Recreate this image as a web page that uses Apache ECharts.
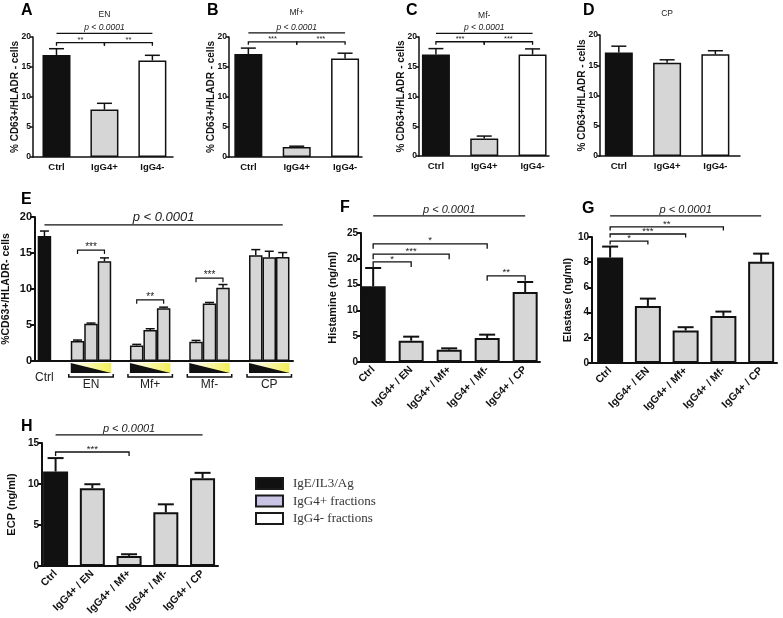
<!DOCTYPE html>
<html>
<head>
<meta charset="utf-8">
<script src="https://cdn.jsdelivr.net/npm/echarts@6.0.0/dist/echarts.min.js"></script>
<style>
html,body{margin:0;padding:0;background:#ffffff;}
#chart{width:783px;height:618px;}
</style>
</head>
<body>
<div id="chart"></div>
<script>
// ================= DATA =================
// Panels A-D : % CD63+/HLADR- cells
const fractionCats = ['Ctrl', 'IgG4+', 'IgG4-'];
const panelTitles = ['EN', 'Mf+', 'Mf-', 'CP'];
const aMean = [17.0, 7.9, 16.1];
const aSem  = [1.05, 1.05, 0.85];
const bMean = [17.15, 1.65, 16.4];
const bSem  = [1.0, 0.15, 0.9];
const cMean = [17.05, 2.95, 17.05];
const cSem  = [1.0, 0.4, 0.95];
const dMean = [17.1, 15.4, 16.8];
const dSem  = [1.05, 0.5, 0.6];

// Panel E : dose response (3 doses per fraction)
const eGroupNames = ['EN', 'Mf+', 'Mf-', 'CP'];
const eCtrlMean = [17.35];
const eCtrlSem  = [0.7];
const eEN     = [2.77, 5.17, 13.86];
const eENSem  = [0.14, 0.10, 0.46];
const eMfP    = [2.17, 4.30, 7.34];
const eMfPSem = [0.14, 0.18, 0.14];
const eMfM    = [2.68, 7.99, 10.16];
const eMfMSem = [0.18, 0.14, 0.46];
const eCP     = [14.69, 14.41, 14.46];
const eCPSem  = [0.78, 0.83, 0.60];

// Panels F-H : mediator release
const releaseCats = ['Ctrl', 'IgG4+ / EN', 'IgG4+ / Mf+', 'IgG4+ / Mf-', 'IgG4+ / CP'];
const histMean = [14.66, 4.13, 2.39, 4.65, 13.57];
const histSem  = [3.56, 0.78, 0.26, 0.65, 1.93];
const elaMean  = [8.37, 4.53, 2.58, 3.74, 8.03];
const elaSem   = [0.87, 0.58, 0.26, 0.34, 0.65];
const ecpMean  = [11.52, 9.48, 1.23, 6.54, 10.71];
const ecpSem   = [1.64, 0.49, 0.20, 0.98, 0.65];

// significance annotations: [from, to, label]
const abcSig = [[0, 2, 'p < 0.0001'], [0, 1, '**'], [1, 2, '**']];
const bcStars = '***';
const histSig = [[0, 4, 'p < 0.0001'], [0, 3, '*'], [0, 2, '***'], [0, 1, '*'], [3, 4, '**']];
const elaSig  = [[0, 4, 'p < 0.0001'], [0, 3, '**'], [0, 2, '***'], [0, 1, '*']];
const ecpSig  = [[0, 4, 'p < 0.0001'], [0, 2, '***']];
const eSigStars = ['***', '**', '***'];  // EN, Mf+, Mf- (lowest vs highest dose)

const legendNames = ['IgE/IL3/Ag', 'IgG4+ fractions', 'IgG4- fractions'];

// ================= STYLE / LAYOUT =================
const SANS = "'Liberation Sans', Arial, Helvetica, sans-serif";
const NARROW = "'Liberation Sans Narrow', 'Arial Narrow', 'Liberation Sans', Arial, sans-serif";
const SERIF = "'Liberation Serif', 'Times New Roman', serif";
const INK = '#111111';
const BLACK = '#111111', GRAY = '#d6d6d6', WHITE = '#ffffff';
const fracColors = [BLACK, GRAY, WHITE];
const relColors = [BLACK, GRAY, GRAY, GRAY, GRAY];

// E bar positions on its x value axis
const eCtrlX = 0.68;
const eGroupX = [4.03, 8.29, 12.56, 16.86];
const eBarStep = 0.97;
const eBarW = 13.5;
function ePos(g, b) { return eGroupX[g] + (b - 1) * eBarStep; }

const grids = [], xAxes = [], yAxes = [], series = [];

function addAxes(cfg) {
  const i = grids.length;
  grids.push(Object.assign({ containLabel: false }, cfg.grid));
  const lw = cfg.axisW || 1.5;
  xAxes.push({
    type: 'value', gridIndex: i, min: cfg.x[0], max: cfg.x[1],
    splitLine: { show: false },
    axisLine: { show: true, onZero: false, lineStyle: { color: INK, width: lw } },
    axisTick: { show: false },
    axisLabel: cfg.cats ? {
      show: true, customValues: cfg.cats.map((c, j) => j),
      formatter: v => cfg.cats[Math.round(v)],
      fontFamily: cfg.catFont || SANS, fontWeight: 'bold', fontSize: cfg.catSize || 10,
      color: INK, rotate: cfg.rotate || 0, margin: cfg.catMargin || 5
    } : { show: false }
  });
  yAxes.push({
    type: 'value', gridIndex: i, min: 0, max: cfg.y[1], interval: cfg.y[2],
    splitLine: { show: false },
    axisLine: { show: true, onZero: false, lineStyle: { color: INK, width: lw } },
    axisTick: { show: true, length: cfg.tickLen || 3, lineStyle: { color: INK, width: lw } },
    axisLabel: { fontFamily: cfg.tickFont || SANS, fontWeight: 'bold', fontSize: cfg.tickSize || 9, color: INK, margin: cfg.tickMargin || 3 },
    name: cfg.yName, nameLocation: 'middle', nameGap: cfg.nameGap, nameMoveOverlap: false,
    nameTextStyle: { fontFamily: SANS, fontWeight: 'bold', fontSize: cfg.nameSize || 10, color: INK }
  });
  return i;
}

function addBars(ax, xs, means, colors, barW, bw) {
  series.push({
    type: 'bar', xAxisIndex: ax, yAxisIndex: ax, barWidth: barW, silent: true, z: 2,
    itemStyle: { borderColor: INK, borderWidth: bw || 1.5 },
    data: means.map((v, j) => ({ value: [xs[j], v], itemStyle: { color: colors[j] } }))
  });
}

function addErr(ax, xs, means, sems, capW, lw) {
  series.push({
    type: 'custom', xAxisIndex: ax, yAxisIndex: ax, silent: true, z: 3, clip: false,
    encode: { x: 0, y: [1, 2] },
    data: means.map((v, j) => [xs[j], v, v + sems[j]]),
    renderItem: (params, api) => {
      const x = api.value(0);
      const b = api.coord([x, api.value(1)]);
      const t = api.coord([x, api.value(2)]);
      const st = { stroke: INK, lineWidth: lw || 1.5 };
      return { type: 'group', children: [
        { type: 'line', shape: { x1: b[0], y1: b[1], x2: t[0], y2: t[1] }, style: st },
        { type: 'line', shape: { x1: t[0] - capW / 2, y1: t[1], x2: t[0] + capW / 2, y2: t[1] }, style: st }
      ] };
    }
  });
}

// items: {x1, x2, y, text, kind: 'p' | 'b' | 't'}
function addSig(ax, items, st) {
  series.push({
    type: 'custom', xAxisIndex: ax, yAxisIndex: ax, silent: true, z: 4, clip: false,
    encode: { x: [0, 1], y: 2 },
    data: items.map(it => [it.x1, it.x2, it.y]),
    renderItem: (params, api) => {
      const it = items[params.dataIndex];
      const p1 = api.coord([api.value(0), api.value(2)]);
      const p2 = api.coord([api.value(1), api.value(2)]);
      const mx = (p1[0] + p2[0]) / 2;
      const ch = [];
      if (it.kind === 't') {
        ch.push({ type: 'text', style: { text: it.text, x: mx, y: p1[1], align: 'center', verticalAlign: 'middle',
          fontSize: st.titleSize, fontFamily: SANS, fill: '#222' } });
      } else if (it.kind === 'p') {
        ch.push({ type: 'line', shape: { x1: p1[0], y1: p1[1], x2: p2[0], y2: p2[1] }, style: { stroke: INK, lineWidth: st.lw } });
        ch.push({ type: 'text', style: { text: it.text, x: mx, y: p1[1] - 1, align: 'center', verticalAlign: 'bottom',
          fontSize: st.pSize, fontStyle: 'italic', fontFamily: SANS, fill: '#222' } });
      } else {
        ch.push({ type: 'polyline', shape: { points: [[p1[0], p1[1] + st.drop], [p1[0], p1[1]], [p2[0], p2[1]], [p2[0], p2[1] + st.drop]] },
          style: { stroke: INK, lineWidth: st.lw, fill: 'none' } });
        ch.push({ type: 'text', style: { text: it.text, x: mx, y: p1[1] + st.starDy, align: 'center', verticalAlign: 'bottom',
          fontSize: st.starSize, fontFamily: SANS, fill: '#222' } });
      }
      return { type: 'group', children: ch };
    }
  });
}

// ---------- Panels A-D ----------
const adPanels = [
  { grid: { left: 33, top: 37, width: 140, height: 120 }, x: [-0.49, 2.43], mean: aMean, sem: aSem, levels: [20.6, 19.05], titleY: 23.8, stars: '**', nameGap: 13 },
  { grid: { left: 229, top: 37, width: 133, height: 120 }, x: [-0.40, 2.35], mean: bMean, sem: bSem, levels: [20.7, 19.2], titleY: 24.0, stars: bcStars, nameGap: 13 },
  { grid: { left: 419, top: 37, width: 130, height: 119 }, x: [-0.35, 2.34], mean: cMean, sem: cSem, levels: [20.6, 19.2], titleY: 23.6, stars: bcStars, nameGap: 13 },
  { grid: { left: 600, top: 35, width: 140, height: 121 }, x: [-0.39, 2.51], mean: dMean, sem: dSem, levels: null, titleY: 23.5, stars: null, nameGap: 13 }
];
adPanels.forEach((p, k) => {
  const ax = addAxes({ grid: p.grid, x: p.x, y: [0, 20, 5], cats: fractionCats, catFont: NARROW, catSize: 9.5, catMargin: 5,
    tickFont: NARROW, tickSize: 8.5, tickMargin: 2, yName: '% CD63+/HLADR - cells', nameGap: p.nameGap, nameSize: 10 });
  const xs = fractionCats.map((c, j) => j);
  addBars(ax, xs, p.mean, fracColors, 28, 1.5);
  addErr(ax, xs, p.mean, p.sem, 15, 1.5);
  const items = [{ x1: 1, x2: 1, y: p.titleY, text: panelTitles[k], kind: 't' }];
  if (p.levels) {
    abcSig.forEach((s, j) => {
      items.push({ x1: s[0], x2: s[1], y: j === 0 ? p.levels[0] : p.levels[1],
        text: j === 0 ? s[2] : p.stars, kind: j === 0 ? 'p' : 'b' });
    });
  }
  addSig(ax, items, { lw: 1.3, drop: 3, pSize: 8.5, starSize: 7.5, starDy: 1, titleSize: 8.5 });
});

// ---------- Panel E ----------
{
  const ax = addAxes({ grid: { left: 33, top: 217, width: 260, height: 144 }, x: [0, 18.57], y: [0, 20, 5], cats: null,
    tickSize: 11, tickLen: 5, tickMargin: 3, axisW: 2, yName: '%CD63+/HLADR- cells', nameGap: 23, nameSize: 10.5 });
  const groups = [[eEN, eENSem], [eMfP, eMfPSem], [eMfM, eMfMSem], [eCP, eCPSem]];
  const xs = [eCtrlX], means = [eCtrlMean[0]], sems = [eCtrlSem[0]], cols = [BLACK];
  groups.forEach((g, gi) => {
    [0, 1, 2].forEach(b => { xs.push(ePos(gi, b)); means.push(g[0][b]); sems.push(g[1][b]); cols.push(GRAY); });
  });
  addBars(ax, xs, means, cols, eBarW, 1.5);
  addErr(ax, xs, means, sems, 9, 1.5);
  addSig(ax, [
    { x1: eCtrlX, x2: ePos(3, 2), y: 18.9, text: 'p < 0.0001', kind: 'p' },
    { x1: ePos(0, 0), x2: ePos(0, 2), y: 15.4, text: eSigStars[0], kind: 'b' },
    { x1: ePos(1, 0), x2: ePos(1, 2), y: 8.5, text: eSigStars[1], kind: 'b' },
    { x1: ePos(2, 0), x2: ePos(2, 2), y: 11.5, text: eSigStars[2], kind: 'b' }
  ], { lw: 1.2, drop: 4, pSize: 13, starSize: 10, starDy: 2, titleSize: 10 });
  // dose triangles, group brackets and labels below the axis
  series.push({
    type: 'custom', xAxisIndex: ax, yAxisIndex: ax, silent: true, clip: false, z: 4,
    encode: { x: 0, y: 1 },
    data: eGroupX.map(x => [x, 0]),
    renderItem: (params, api) => {
      const gx = api.value(0);
      const c = api.coord([gx, 0]);
      const l = api.coord([gx - eBarStep, 0])[0] - eBarW / 2;
      const r = api.coord([gx + eBarStep, 0])[0] + eBarW / 2;
      const y0 = c[1];
      return { type: 'group', children: [
        { type: 'rect', shape: { x: l, y: y0 + 2, width: r - l, height: 10 },
          style: { fill: new echarts.graphic.LinearGradient(0, 0, 1, 0, [{ offset: 0, color: '#ffffff' }, { offset: 1, color: '#f2ee55' }]) } },
        { type: 'polygon', shape: { points: [[l, y0 + 2], [l, y0 + 12], [r, y0 + 12]] }, style: { fill: '#111' } },
        { type: 'polyline', shape: { points: [[l - 2, y0 + 13], [l - 2, y0 + 16], [r + 2, y0 + 16], [r + 2, y0 + 13]] },
          style: { stroke: INK, lineWidth: 1.5, fill: 'none' } },
        { type: 'text', style: { text: eGroupNames[params.dataIndex], x: c[0], y: y0 + 24, align: 'center', verticalAlign: 'middle',
          fontSize: 12, fontFamily: SANS, fill: '#222' } }
      ] };
    }
  });
  series.push({
    type: 'custom', xAxisIndex: ax, yAxisIndex: ax, silent: true, clip: false, z: 4,
    encode: { x: 0, y: 1 },
    data: [[eCtrlX, 0]],
    renderItem: (params, api) => {
      const c = api.coord([api.value(0), 0]);
      return { type: 'text', style: { text: 'Ctrl', x: c[0], y: c[1] + 17, align: 'center', verticalAlign: 'middle',
        fontSize: 12, fontFamily: SANS, fill: '#222' } };
    }
  });
}

// ---------- Panels F, G, H ----------
const relPanels = [
  { grid: { left: 361, top: 233, width: 179, height: 129 }, x: [-0.32, 4.39], y: [0, 25, 5], mean: histMean, sem: histSem, barW: 25,
    yName: 'Histamine (ng/ml)', nameGap: 23, sig: histSig, levels: [28.3, 22.9, 20.9, 19.4, 16.7], drop: 5 },
  { grid: { left: 592, top: 237, width: 185, height: 126 }, x: [-0.48, 4.42], y: [0, 10, 2], mean: elaMean, sem: elaSem, barW: 26,
    yName: 'Elastase (ng/ml)', nameGap: 19, sig: elaSig, levels: [11.67, 10.8, 10.24, 9.68], drop: 3.5 },
  { grid: { left: 42, top: 443, width: 176, height: 123 }, x: [-0.37, 4.42], y: [0, 15, 5], mean: ecpMean, sem: ecpSem, barW: 25,
    yName: 'ECP (ng/ml)', nameGap: 25, sig: ecpSig, levels: [15.98, 13.9], drop: 4 }
];
relPanels.forEach(p => {
  const ax = addAxes({ grid: p.grid, x: p.x, y: p.y, cats: releaseCats, catSize: 10.5, rotate: 45, catMargin: 6,
    tickSize: 10, tickLen: 4, axisW: 2, yName: p.yName, nameGap: p.nameGap, nameSize: 11 });
  const xs = releaseCats.map((c, j) => j);
  addBars(ax, xs, p.mean, relColors, p.barW, 2);
  addErr(ax, xs, p.mean, p.sem, 16, 2);
  addSig(ax, p.sig.map((s, j) => ({ x1: s[0], x2: s[1], y: p.levels[j], text: s[2], kind: j === 0 ? 'p' : 'b' })),
    { lw: 1.3, drop: p.drop, pSize: 11, starSize: 9.5, starDy: 2, titleSize: 10 });
});

// ---------- panel letters & legend ----------
const letters = [['A', 21, 3], ['B', 207, 3], ['C', 406, 3], ['D', 583, 3], ['E', 21, 192], ['F', 340, 200], ['G', 582, 201], ['H', 21, 419]];
const graphic = letters.map(l => ({ type: 'text', x: l[1], y: l[2], silent: true,
  style: { text: l[0], fontSize: 16, fontWeight: 'bold', fontFamily: SANS, fill: '#000', verticalAlign: 'top' } }));
const legFill = [BLACK, '#c9c3e6', WHITE];
legendNames.forEach((n, i) => {
  const y = 478 + i * 17.5;
  graphic.push({ type: 'rect', silent: true, shape: { x: 256, y: y, width: 27, height: 11 },
    style: { fill: legFill[i], stroke: '#1a1a1a', lineWidth: 2 } });
  graphic.push({ type: 'text', silent: true, x: 293, y: y + 6,
    style: { text: n, fontSize: 13, fontFamily: SERIF, fill: '#333', verticalAlign: 'middle' } });
});

const chart = echarts.init(document.getElementById('chart'), null, { renderer: 'canvas' });
chart.setOption({
  animation: false,
  backgroundColor: '#ffffff',
  grid: grids,
  xAxis: xAxes,
  yAxis: yAxes,
  series: series,
  graphic: graphic
});
</script>
</body>
</html>
